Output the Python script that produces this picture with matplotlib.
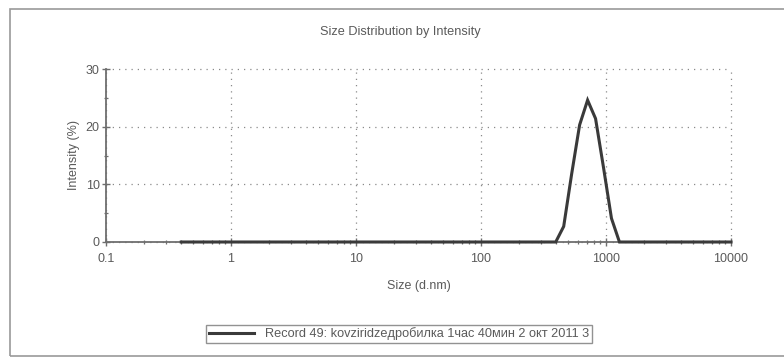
import numpy as np
import matplotlib
matplotlib.use("Agg")
import matplotlib.pyplot as plt
from matplotlib.patches import Rectangle
from matplotlib.ticker import LogLocator, FixedLocator, NullFormatter

plt.rcParams['font.family'] = ['Liberation Sans', 'DejaVu Sans']

# Size classes (d.nm) and intensity distribution (%)
sizes = [0.4, 0.4632, 0.5365, 0.6213, 0.7195, 0.8332, 0.9649, 1.117, 1.294, 1.499,
         1.736, 2.010, 2.328, 2.696, 3.122, 3.615, 4.187, 4.849, 5.615, 6.503,
         7.531, 8.721, 10.10, 11.70, 13.54, 15.69, 18.17, 21.04, 24.36, 28.21,
         32.67, 37.84, 43.82, 50.75, 58.77, 68.06, 78.82, 91.28, 105.7, 122.4,
         141.8, 164.2, 190.1, 220.2, 255.0, 295.3, 342.0, 396.1, 458.7, 531.2,
         615.1, 712.4, 825.0, 955.4, 1106, 1281, 1484, 1718, 1990, 2305,
         2669, 3091, 3580, 4145, 4801, 5560, 6439, 7456, 8635, 10000]
intensity = [0.0] * 48 + [2.7, 11.8, 20.3, 24.6, 21.4, 12.9, 4.1] + [0.0] * 15

x_ticks = [0.1, 1, 10, 100, 1000, 10000]
x_tick_labels = ["0.1", "1", "10", "100", "1000", "10000"]
y_ticks = [0, 10, 20, 30]

title = "Size Distribution by Intensity"
x_label = "Size (d.nm)"
y_label = "Intensity (%)"
legend_label = "Record 49: kovziridzeдробилка 1час 40мин 2 окт 2011 3"

text_color = "#5a5a5a"
axis_color = "#6e6e6e"
line_color = "#3a3a3a"

fig = plt.figure(figsize=(7.84, 3.58), dpi=100)
fig.patch.set_facecolor("white")

# outer frame
fig.patches.append(Rectangle((10 / 784, 2 / 358), 1.2, 1 - 11 / 358,
                             transform=fig.transFigure, fill=False,
                             edgecolor="#9a9a9a", linewidth=1.2))

ax = fig.add_axes([106 / 784, 116 / 358, 625 / 784, 173 / 358])
ax.set_xscale("log")
ax.set_xlim(0.1, 10000)
ax.set_ylim(0, 30)

ax.plot(sizes, intensity, color=line_color, linewidth=2.2, solid_joinstyle="miter",
        label=legend_label, zorder=5, clip_on=False)

ax.set_xticks(x_ticks)
ax.set_xticklabels(x_tick_labels)
ax.xaxis.set_minor_locator(LogLocator(base=10, subs=np.arange(2, 10)))
ax.xaxis.set_minor_formatter(NullFormatter())
ax.set_yticks(y_ticks)
ax.yaxis.set_minor_locator(FixedLocator([5, 15, 25]))

ax.grid(True, which="major", linestyle=(0, (1, 4)), color="#8a8a8a", linewidth=0.9)
for gl in ax.get_xgridlines() + ax.get_ygridlines():
    gl.set_clip_on(False)

for side in ("top", "right"):
    ax.spines[side].set_visible(False)
for side in ("left", "bottom"):
    ax.spines[side].set_color(axis_color)
    ax.spines[side].set_linewidth(1.3)

ax.tick_params(which="major", direction="inout", length=6, width=1.0,
               color=axis_color, labelcolor=text_color, labelsize=9)
ax.tick_params(axis="x", which="major", pad=5)
ax.tick_params(axis="y", which="major", pad=1.5)
ax.tick_params(which="minor", direction="inout", length=3, width=0.9,
               color=axis_color)

ax.set_xlabel(x_label, color=text_color, fontsize=9, labelpad=11)
ax.set_ylabel(y_label, color=text_color, fontsize=9, labelpad=4)

fig.text(400 / 784, 1 - 32 / 358, title, ha="center", va="center",
         color=text_color, fontsize=9.2)

leg = fig.legend(loc="center", bbox_to_anchor=(399 / 784, 1 - 334 / 358),
                 frameon=True, fancybox=False, fontsize=9.2, handlelength=3.5,
                 handletextpad=0.9, borderpad=0.2, borderaxespad=0,
                 labelcolor=text_color)
leg.get_frame().set_edgecolor("#777777")
leg.get_frame().set_linewidth(1.0)

fig.savefig("out.png", dpi=100, facecolor="white")
